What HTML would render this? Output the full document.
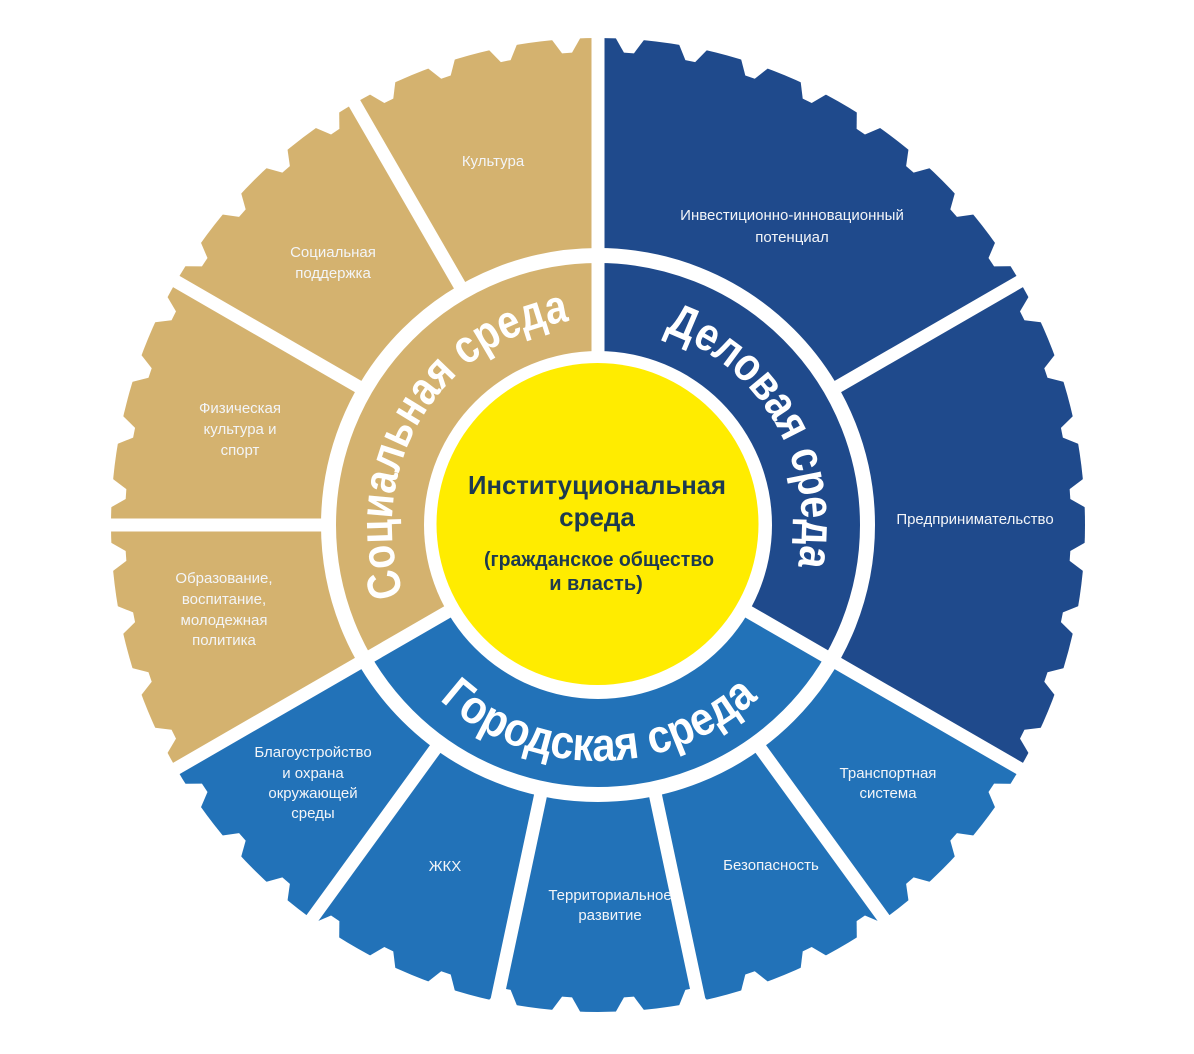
<!DOCTYPE html>
<html>
<head>
<meta charset="utf-8">
<style>
html,body{margin:0;padding:0;background:#ffffff;width:1194px;height:1054px;overflow:hidden}
svg{display:block}
.lbl{font-family:"Liberation Sans",Arial,sans-serif;font-size:15px;fill:#f3f5f8;text-anchor:middle}
.ring{font-family:"Liberation Sans",Arial,sans-serif;font-size:47px;font-weight:bold;fill:#ffffff}
.ctr{font-family:"Liberation Sans",Arial,sans-serif;font-weight:bold;fill:#1d3a4f;text-anchor:middle}
</style>
</head>
<body>
<svg width="1194" height="1054" viewBox="0 0 1194 1054" xmlns="http://www.w3.org/2000/svg" xmlns:xlink="http://www.w3.org/1999/xlink">
<defs>
  <clipPath id="gc"><circle cx="598" cy="525" r="487"/></clipPath>
  <polygon id="n" points="576,26 620,26 603,52 593,52" fill="#ffffff"/>
  <path id="ps" d="M403.9,594.1 A206,206 0 0 1 569.3,321.0" fill="none"/>
  <path id="pd" d="M664.4,332.1 A204,204 0 0 1 797.8,566.0" fill="none"/>
  <path id="pg" d="M439.5,699.8 A236,236 0 0 0 759.5,697.0" fill="none"/>
</defs>

<g clip-path="url(#gc)">
  <path d="M598,525 L598,5 A520,520 0 0 0 147.7,785 Z" fill="#d4b26f"/>
  <path d="M598,525 L1048.3,785 A520,520 0 0 0 598,5 Z" fill="#1f4a8c"/>
  <path d="M598,525 L147.7,785 A520,520 0 0 0 1048.3,785 Z" fill="#2272b8"/>
</g>

<g>
<use href="#n" xlink:href="#n" transform="rotate(3.75 598 525)"/>
<use href="#n" xlink:href="#n" transform="rotate(11.25 598 525)"/>
<use href="#n" xlink:href="#n" transform="rotate(18.75 598 525)"/>
<use href="#n" xlink:href="#n" transform="rotate(26.25 598 525)"/>
<use href="#n" xlink:href="#n" transform="rotate(33.75 598 525)"/>
<use href="#n" xlink:href="#n" transform="rotate(41.25 598 525)"/>
<use href="#n" xlink:href="#n" transform="rotate(48.75 598 525)"/>
<use href="#n" xlink:href="#n" transform="rotate(56.25 598 525)"/>
<use href="#n" xlink:href="#n" transform="rotate(63.75 598 525)"/>
<use href="#n" xlink:href="#n" transform="rotate(71.25 598 525)"/>
<use href="#n" xlink:href="#n" transform="rotate(78.75 598 525)"/>
<use href="#n" xlink:href="#n" transform="rotate(86.25 598 525)"/>
<use href="#n" xlink:href="#n" transform="rotate(93.75 598 525)"/>
<use href="#n" xlink:href="#n" transform="rotate(101.25 598 525)"/>
<use href="#n" xlink:href="#n" transform="rotate(108.75 598 525)"/>
<use href="#n" xlink:href="#n" transform="rotate(116.25 598 525)"/>
<use href="#n" xlink:href="#n" transform="rotate(123.75 598 525)"/>
<use href="#n" xlink:href="#n" transform="rotate(131.25 598 525)"/>
<use href="#n" xlink:href="#n" transform="rotate(138.75 598 525)"/>
<use href="#n" xlink:href="#n" transform="rotate(146.25 598 525)"/>
<use href="#n" xlink:href="#n" transform="rotate(153.75 598 525)"/>
<use href="#n" xlink:href="#n" transform="rotate(161.25 598 525)"/>
<use href="#n" xlink:href="#n" transform="rotate(168.75 598 525)"/>
<use href="#n" xlink:href="#n" transform="rotate(176.25 598 525)"/>
<use href="#n" xlink:href="#n" transform="rotate(183.75 598 525)"/>
<use href="#n" xlink:href="#n" transform="rotate(191.25 598 525)"/>
<use href="#n" xlink:href="#n" transform="rotate(198.75 598 525)"/>
<use href="#n" xlink:href="#n" transform="rotate(206.25 598 525)"/>
<use href="#n" xlink:href="#n" transform="rotate(213.75 598 525)"/>
<use href="#n" xlink:href="#n" transform="rotate(221.25 598 525)"/>
<use href="#n" xlink:href="#n" transform="rotate(228.75 598 525)"/>
<use href="#n" xlink:href="#n" transform="rotate(236.25 598 525)"/>
<use href="#n" xlink:href="#n" transform="rotate(243.75 598 525)"/>
<use href="#n" xlink:href="#n" transform="rotate(251.25 598 525)"/>
<use href="#n" xlink:href="#n" transform="rotate(258.75 598 525)"/>
<use href="#n" xlink:href="#n" transform="rotate(266.25 598 525)"/>
<use href="#n" xlink:href="#n" transform="rotate(273.75 598 525)"/>
<use href="#n" xlink:href="#n" transform="rotate(281.25 598 525)"/>
<use href="#n" xlink:href="#n" transform="rotate(288.75 598 525)"/>
<use href="#n" xlink:href="#n" transform="rotate(296.25 598 525)"/>
<use href="#n" xlink:href="#n" transform="rotate(303.75 598 525)"/>
<use href="#n" xlink:href="#n" transform="rotate(311.25 598 525)"/>
<use href="#n" xlink:href="#n" transform="rotate(318.75 598 525)"/>
<use href="#n" xlink:href="#n" transform="rotate(326.25 598 525)"/>
<use href="#n" xlink:href="#n" transform="rotate(333.75 598 525)"/>
<use href="#n" xlink:href="#n" transform="rotate(341.25 598 525)"/>
<use href="#n" xlink:href="#n" transform="rotate(348.75 598 525)"/>
<use href="#n" xlink:href="#n" transform="rotate(356.25 598 525)"/>
</g>

<g stroke="#ffffff" stroke-width="13" stroke-linecap="butt" fill="none">
  <line x1="598" y1="370" x2="598" y2="20"/>
  <line x1="465.5" y1="295.5" x2="348" y2="92"/>
  <line x1="368.5" y1="392.5" x2="165" y2="275"/>
  <line x1="333" y1="525" x2="98" y2="525"/>
  <line x1="468.1" y1="600" x2="165" y2="775"/>
  <line x1="442.2" y1="739.4" x2="304.1" y2="929.5"/>
  <line x1="542.9" y1="784.2" x2="494" y2="1014.1"/>
  <line x1="653.1" y1="784.2" x2="702" y2="1014.1"/>
  <line x1="753.8" y1="739.4" x2="891.9" y2="929.5"/>
  <line x1="727.9" y1="600" x2="1031" y2="775"/>
  <line x1="827.5" y1="392.5" x2="1031" y2="275"/>
</g>

<circle cx="598" cy="525" r="269.5" fill="none" stroke="#ffffff" stroke-width="15"/>

<circle cx="598" cy="525" r="174" fill="#ffffff"/>
<circle cx="597.5" cy="524" r="161" fill="#ffec00"/>

<text class="ring"><textPath href="#ps" xlink:href="#ps" textLength="365" lengthAdjust="spacingAndGlyphs">Социальная среда</textPath></text>
<text class="ring"><textPath href="#pd" xlink:href="#pd" textLength="294" lengthAdjust="spacingAndGlyphs">Деловая среда</textPath></text>
<text class="ring"><textPath href="#pg" xlink:href="#pg" textLength="350" lengthAdjust="spacingAndGlyphs">Городская среда</textPath></text>

<text class="ctr" x="597" y="494" font-size="26" textLength="258" lengthAdjust="spacingAndGlyphs">Институциональная</text>
<text class="ctr" x="597" y="526" font-size="26">среда</text>
<text class="ctr" x="599" y="566" font-size="20" textLength="230" lengthAdjust="spacingAndGlyphs">(гражданское общество</text>
<text class="ctr" x="596" y="590" font-size="20">и власть)</text>

<text class="lbl" x="493" y="166">Культура</text>
<text class="lbl" x="333" y="257">Социальная</text>
<text class="lbl" x="333" y="278">поддержка</text>
<text class="lbl" x="240" y="413">Физическая</text>
<text class="lbl" x="240" y="434">культура и</text>
<text class="lbl" x="240" y="455">спорт</text>
<text class="lbl" x="224" y="583">Образование,</text>
<text class="lbl" x="224" y="604">воспитание,</text>
<text class="lbl" x="224" y="625">молодежная</text>
<text class="lbl" x="224" y="645">политика</text>
<text class="lbl" x="313" y="757">Благоустройство</text>
<text class="lbl" x="313" y="778">и охрана</text>
<text class="lbl" x="313" y="798">окружающей</text>
<text class="lbl" x="313" y="818">среды</text>
<text class="lbl" x="445" y="871">ЖКХ</text>
<text class="lbl" x="610" y="900">Территориальное</text>
<text class="lbl" x="610" y="920">развитие</text>
<text class="lbl" x="771" y="870">Безопасность</text>
<text class="lbl" x="888" y="778">Транспортная</text>
<text class="lbl" x="888" y="798">система</text>
<text class="lbl" x="975" y="524">Предпринимательство</text>
<text class="lbl" x="792" y="220">Инвестиционно-инновационный</text>
<text class="lbl" x="792" y="242">потенциал</text>
</svg>
</body>
</html>
